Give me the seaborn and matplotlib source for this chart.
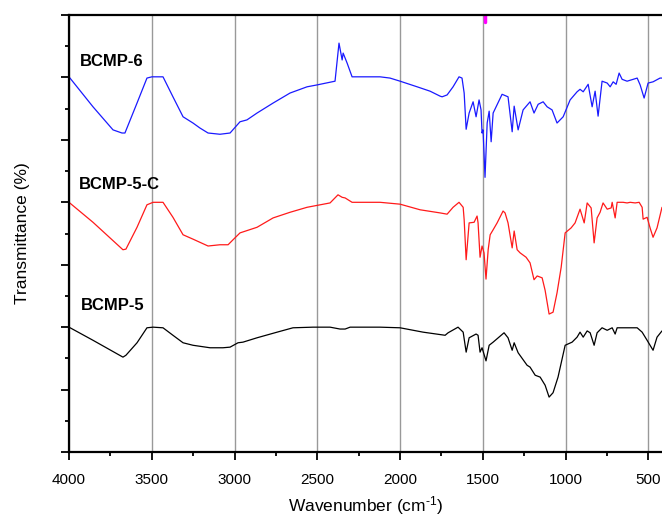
import numpy as np
import pandas as pd
import matplotlib
matplotlib.use('Agg')
import matplotlib.pyplot as plt
from matplotlib.ticker import MultipleLocator
import seaborn as sns

# FTIR spectra (offset transmittance, arbitrary units)
wn_bcmp6 = [4000, 3855, 3734, 3680, 3662, 3589, 3529, 3499, 3432, 3372, 3311, 3251, 3209,
            3160, 3088, 3027, 2967, 2925, 2864, 2767, 2665, 2562, 2502, 2393, 2369, 2350,
            2344, 2320, 2290, 2260, 2121, 2061, 2000, 1897, 1819, 1758, 1746, 1716, 1680,
            1644, 1626, 1613, 1601, 1583, 1559, 1541, 1523, 1511, 1505, 1499, 1487, 1474,
            1462, 1450, 1438, 1384, 1348, 1323, 1311, 1287, 1257, 1215, 1191, 1166, 1136,
            1112, 1082, 1052, 1015, 973, 931, 913, 894, 864, 840, 822, 804, 780, 749, 731,
            713, 695, 677, 659, 629, 592, 568, 550, 526, 502, 472, 430, 418]
t_bcmp6 = [6.01, 5.53, 5.16, 5.11, 5.11, 5.59, 5.99, 6.01, 6.01, 5.69, 5.37, 5.27, 5.19,
           5.11, 5.09, 5.11, 5.29, 5.32, 5.43, 5.59, 5.75, 5.85, 5.88, 5.94, 6.55, 6.28,
           6.39, 6.23, 6.01, 6.01, 6.01, 5.99, 5.94, 5.85, 5.78, 5.70, 5.69, 5.72, 5.85,
           6.01, 5.99, 5.75, 5.17, 5.43, 5.61, 5.37, 5.64, 5.48, 5.11, 5.16, 4.40, 5.27,
           5.46, 4.97, 5.43, 5.73, 5.69, 5.13, 5.54, 5.16, 5.48, 5.61, 5.43, 5.57, 5.61,
           5.53, 5.48, 5.27, 5.37, 5.64, 5.77, 5.81, 5.77, 5.89, 5.53, 5.78, 5.38, 5.94,
           5.91, 5.85, 5.93, 5.89, 6.07, 5.97, 5.94, 5.97, 5.99, 5.88, 5.67, 5.91, 5.93,
           5.99, 5.99]

wn_bcmp5c = [4000, 3855, 3674, 3656, 3589, 3529, 3492, 3432, 3372, 3311, 3251, 3160, 3088,
             3039, 3009, 2967, 2864, 2767, 2665, 2562, 2423, 2375, 2350, 2332, 2290, 2121,
             2000, 1879, 1758, 1716, 1680, 1644, 1619, 1613, 1601, 1583, 1553, 1535, 1529,
             1517, 1505, 1493, 1481, 1468, 1456, 1438, 1414, 1378, 1366, 1348, 1323, 1311,
             1293, 1275, 1239, 1215, 1191, 1172, 1142, 1124, 1100, 1076, 1052, 1027, 1003,
             967, 943, 913, 888, 870, 846, 828, 810, 792, 774, 749, 725, 719, 701, 689, 653,
             629, 610, 580, 556, 538, 532, 508, 490, 472, 448, 418]
t_bcmp5c = [4.00, 3.68, 3.24, 3.25, 3.60, 3.96, 4.00, 4.00, 3.76, 3.48, 3.41, 3.30, 3.32,
            3.32, 3.40, 3.51, 3.60, 3.75, 3.84, 3.92, 3.99, 4.12, 4.08, 4.07, 4.00, 4.00,
            3.97, 3.88, 3.83, 3.81, 3.92, 4.00, 3.92, 3.72, 3.08, 3.67, 3.68, 3.78, 3.67,
            3.12, 3.30, 3.19, 2.77, 3.24, 3.48, 3.56, 3.67, 3.86, 3.83, 3.67, 3.27, 3.54,
            3.24, 3.19, 3.12, 3.03, 2.76, 2.82, 2.79, 2.59, 2.21, 2.24, 2.55, 2.96, 3.51,
            3.59, 3.67, 3.89, 3.67, 3.99, 3.91, 3.35, 3.75, 3.84, 3.99, 3.89, 3.91, 4.00,
            3.75, 4.00, 4.00, 3.99, 4.00, 3.99, 4.00, 3.92, 3.73, 3.76, 3.59, 3.44, 3.59,
            3.92]

wn_bcmp5 = [4000, 3855, 3674, 3656, 3589, 3529, 3492, 3432, 3372, 3311, 3251, 3148, 3070,
            3027, 2979, 2949, 2864, 2743, 2647, 2526, 2423, 2363, 2332, 2302, 2121, 2000,
            1861, 1728, 1710, 1650, 1619, 1601, 1583, 1541, 1529, 1517, 1505, 1481, 1462,
            1438, 1372, 1348, 1323, 1311, 1287, 1233, 1215, 1184, 1154, 1124, 1100, 1076,
            1046, 1003, 961, 931, 913, 894, 870, 852, 828, 810, 780, 749, 719, 701, 689,
            629, 568, 538, 508, 472, 448, 418]
t_bcmp5 = [2.00, 1.79, 1.52, 1.55, 1.75, 1.99, 2.00, 1.99, 1.87, 1.75, 1.71, 1.67, 1.67,
           1.68, 1.75, 1.76, 1.83, 1.92, 1.99, 2.00, 2.00, 1.97, 1.97, 2.00, 2.00, 1.99,
           1.92, 1.87, 1.91, 2.00, 1.92, 1.60, 1.83, 1.89, 1.87, 1.60, 1.67, 1.46, 1.71,
           1.76, 1.91, 1.83, 1.63, 1.75, 1.59, 1.39, 1.36, 1.23, 1.20, 1.07, 0.88, 0.95,
           1.20, 1.71, 1.76, 1.84, 1.92, 1.84, 1.94, 1.91, 1.71, 1.91, 1.99, 1.95, 1.99,
           1.89, 1.99, 1.99, 1.99, 1.92, 1.79, 1.63, 1.84, 1.94]

names = ['BCMP-6', 'BCMP-5-C', 'BCMP-5']
colors = ['#1a1aff', '#ff1a1a', '#000000']
label_x = [3934, 3940, 3927]
label_y = [6.25, 4.29, 2.35]
marker_wn = 1485

sns.set_style('white')
plt.rcParams['font.family'] = ['Liberation Sans', 'DejaVu Sans']
plt.rcParams['mathtext.fontset'] = 'custom'
plt.rcParams['mathtext.rm'] = 'Liberation Sans'
plt.rcParams['mathtext.it'] = 'Liberation Sans:italic'
plt.rcParams['mathtext.bf'] = 'Liberation Sans:bold'
plt.rcParams['text.color'] = 'black'
plt.rcParams['axes.labelcolor'] = 'black'
plt.rcParams['xtick.color'] = 'black'
plt.rcParams['ytick.color'] = 'black'

fig = plt.figure(figsize=(6.62, 5.25), dpi=100)
ax = fig.add_axes([0.1042, 0.139, 0.8958, 0.8324])

series = [(wn_bcmp6, t_bcmp6), (wn_bcmp5c, t_bcmp5c), (wn_bcmp5, t_bcmp5)]
for (wn, t), name, col in zip(series, names, colors):
    df = pd.DataFrame({'Wavenumber': wn, 'T': t})
    sns.lineplot(data=df, x='Wavenumber', y='T', color=col, linewidth=0.9, ax=ax)

for name, lx, ly in zip(names, label_x, label_y):
    ax.text(lx, ly, name, fontsize=12, fontweight='bold', ha='left', va='center',
            color='black')

ax.axvline(marker_wn, ymin=0.985, ymax=1.0, color='magenta', linewidth=2.5)

ax.set_xlim(4000, 418)
ax.set_ylim(0, 7)
ax.xaxis.set_major_locator(MultipleLocator(500))
ax.xaxis.set_minor_locator(MultipleLocator(250))
ax.yaxis.set_major_locator(MultipleLocator(1))
ax.yaxis.set_minor_locator(MultipleLocator(0.5))
ax.grid(True, axis='x', color='#999999', linewidth=1.0)
ax.tick_params(axis='both', which='major', direction='out', length=6, width=1.3,
               labelsize=11, pad=9, bottom=True, left=True)
ax.tick_params(axis='both', which='minor', direction='out', length=3, width=1.3,
               bottom=True, left=True)
ax.tick_params(axis='y', which='both', labelleft=False)

for side in ['left', 'bottom', 'top']:
    ax.spines[side].set_color('black')
    ax.spines[side].set_linewidth(1.6)
ax.spines['right'].set_visible(False)

ax.set_xlabel('Wavenumber (cm$^{\\text{-1}}$)', fontsize=12.5)
ax.set_ylabel('Transmittance (%)', fontsize=12.5)
ax.xaxis.set_label_coords(0.5, -0.097)
ax.yaxis.set_label_coords(-0.066, 0.5)

fig.savefig('out.png', dpi=100)
